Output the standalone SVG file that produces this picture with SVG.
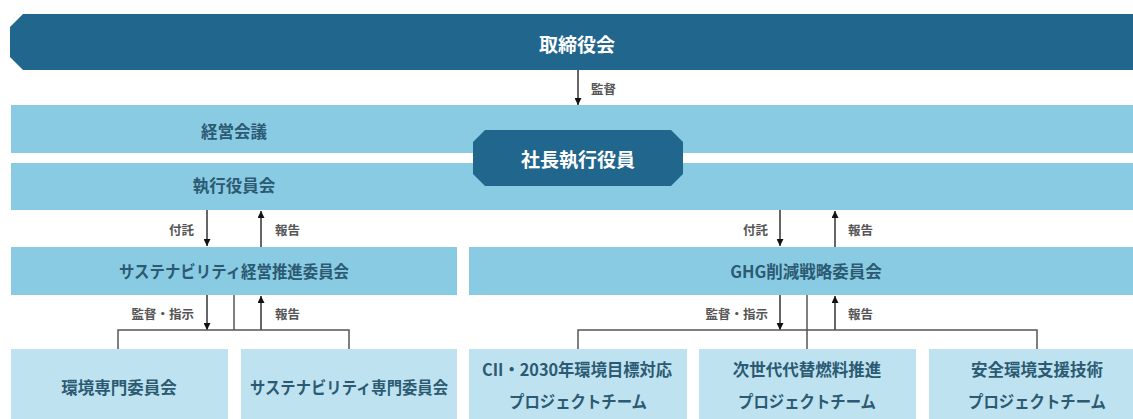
<svg xmlns="http://www.w3.org/2000/svg" width="1133" height="419" viewBox="0 0 1133 419">
  <style>
    text { font-family: "Noto Sans CJK JP", "Noto Sans", sans-serif; dominant-baseline: central; }
    .dark { fill: #21668c; }
    .band { fill: #8acbe4; }
    .box { fill: #bfe2f0; }
    .wt { fill: #ffffff; font-size: 19px; font-weight: 700; text-anchor: middle; }
    .bt { fill: #2b5a72; font-size: 16.5px; font-weight: 700; text-anchor: middle; }
    .lb { fill: #555555; font-size: 12.5px; font-weight: 700; }
    .ln { stroke: #555555; stroke-width: 1.5; fill: none; }
    .ar { stroke: #333333; stroke-width: 1.5; fill: none; marker-end: url(#ah); }
  </style>
  <defs>
    <marker id="ah" viewBox="0 0 10 10" refX="10" refY="5" markerWidth="10" markerHeight="7" markerUnits="userSpaceOnUse" orient="auto">
      <path d="M0,0 L10,5 L0,10 z" fill="#111111"/>
    </marker>
  </defs>
  <rect width="1133" height="419" fill="#ffffff"/>

  <g id="board">
    <polygon class="dark" points="23,14 1133,14 1133,70 23,70 10,57 10,27"/>
    <text class="wt" x="577" y="43">取締役会</text>
  </g>
  <g id="keiei-kaigi">
    <rect class="band" x="11" y="105" width="1122" height="48"/>
    <text class="bt" x="234" y="131">経営会議</text>
  </g>
  <g id="shikko-yakuin-kai">
    <rect class="band" x="11" y="163" width="1122" height="47"/>
    <text class="bt" x="234" y="185">執行役員会</text>
  </g>
  <g id="president">
    <polygon class="dark" points="485,130 671,130 683,142 683,174 671,186 485,186 473,174 473,142"/>
    <text class="wt" x="578" y="158">社長執行役員</text>
  </g>
  <g id="sustainability-committee">
    <rect class="band" x="11" y="247" width="446" height="48"/>
    <text class="bt" x="234" y="271" textLength="230" lengthAdjust="spacingAndGlyphs">サステナビリティ経営推進委員会</text>
  </g>
  <g id="ghg-committee">
    <rect class="band" x="469" y="247" width="664" height="48"/>
    <text class="bt" x="806" y="271">GHG削減戦略委員会</text>
  </g>
  <g id="env-committee">
    <rect class="box" x="11" y="349" width="217" height="70"/>
    <text class="bt" x="119" y="387">環境専門委員会</text>
  </g>
  <g id="sus-expert-committee">
    <rect class="box" x="241" y="349" width="216" height="70"/>
    <text class="bt" x="349" y="387" textLength="198" lengthAdjust="spacingAndGlyphs">サステナビリティ専門委員会</text>
  </g>
  <g id="cii-team">
    <rect class="box" x="469" y="349" width="218" height="70"/>
    <text class="bt" x="577" y="369" textLength="190" lengthAdjust="spacingAndGlyphs">CII・2030年環境目標対応</text>
    <text class="bt" x="578" y="401" textLength="138" lengthAdjust="spacingAndGlyphs">プロジェクトチーム</text>
  </g>
  <g id="fuel-team">
    <rect class="box" x="699" y="349" width="217" height="70"/>
    <text class="bt" x="807" y="369">次世代代替燃料推進</text>
    <text class="bt" x="807" y="401" textLength="138" lengthAdjust="spacingAndGlyphs">プロジェクトチーム</text>
  </g>
  <g id="safety-team">
    <rect class="box" x="929" y="349" width="204" height="70"/>
    <text class="bt" x="1037" y="369">安全環境支援技術</text>
    <text class="bt" x="1037" y="401" textLength="138" lengthAdjust="spacingAndGlyphs">プロジェクトチーム</text>
  </g>

  <g id="connectors">
    <line class="ar" x1="578" y1="70" x2="578" y2="105"/>
    <text class="lb" x="591" y="88">監督</text>

    <line class="ar" x1="207" y1="210" x2="207" y2="246"/>
    <line class="ar" x1="261" y1="247" x2="261" y2="211"/>
    <text class="lb" x="194" y="229" text-anchor="end">付託</text>
    <text class="lb" x="275" y="229">報告</text>

    <line class="ar" x1="780" y1="210" x2="780" y2="246"/>
    <line class="ar" x1="835" y1="247" x2="835" y2="211"/>
    <text class="lb" x="768" y="229" text-anchor="end">付託</text>
    <text class="lb" x="848" y="229">報告</text>

    <line class="ar" x1="207" y1="295" x2="207" y2="330"/>
    <line class="ln" x1="234" y1="295" x2="234" y2="330"/>
    <line class="ar" x1="261" y1="330" x2="261" y2="296"/>
    <polyline class="ln" points="118,349 118,330 349,330 349,349"/>
    <text class="lb" x="194" y="313" text-anchor="end">監督・指示</text>
    <text class="lb" x="275" y="313">報告</text>

    <line class="ar" x1="780" y1="295" x2="780" y2="330"/>
    <line class="ln" x1="807" y1="295" x2="807" y2="349"/>
    <line class="ar" x1="835" y1="330" x2="835" y2="296"/>
    <polyline class="ln" points="578,349 578,330 1037,330 1037,349"/>
    <text class="lb" x="768" y="313" text-anchor="end">監督・指示</text>
    <text class="lb" x="848" y="313">報告</text>
  </g>
</svg>
